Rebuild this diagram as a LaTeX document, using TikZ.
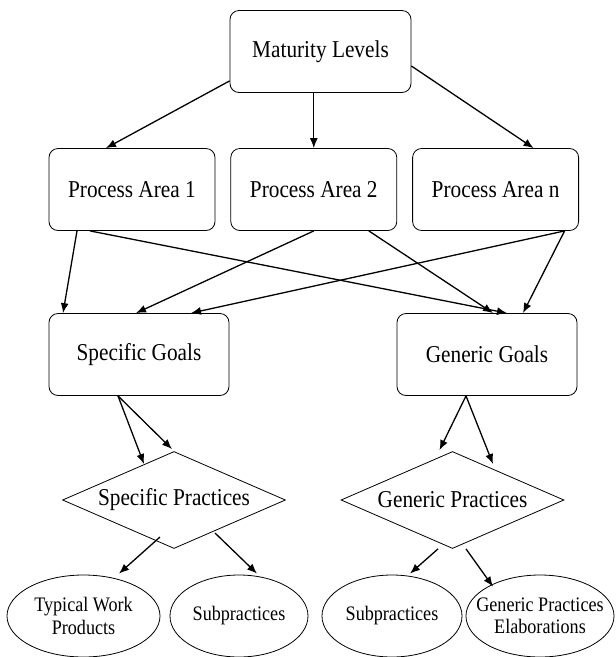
\documentclass[tikz,border=0pt]{standalone}
\usepackage{fontspec}
\setmainfont{Liberation Serif}[FakeStretch=0.88]
\usetikzlibrary{arrows.meta,positioning,shapes.geometric}

\begin{document}
\begin{tikzpicture}[x=1pt,y=-1pt,node distance=15pt,
        box/.style={rectangle,rounded corners=9pt,draw,line width=0.8pt,
          minimum height=82pt,inner sep=0pt,font=\fontsize{24.2}{28}\selectfont},
        choice/.style={diamond,aspect=2.3,draw,line width=0.8pt,inner sep=0pt,
          minimum width=223pt,minimum height=97pt,font=\fontsize{24.2}{28}\selectfont},
        oval/.style={ellipse,draw,line width=0.8pt,inner sep=0pt,minimum height=82pt,
          align=center,font=\fontsize{20.6}{22.5}\selectfont},
        arrow/.style={-{Latex[length=10pt,width=8pt]},line width=1.3pt}]
  \useasboundingbox (0,0) rectangle (616,657);
  % levels and areas
  \node[box,minimum width=181pt] (ml) at (320.5,51.5) {Maturity Levels};
  \node[box,minimum width=166pt] (pa1) at (132,189.5) {Process Area 1};
  \node[box,minimum width=166pt,right=of pa1] (pa2) {Process Area 2};
  \node[box,minimum width=166pt,right=of pa2] (pan) {Process Area n};
  % goals
  \node[box,minimum width=180pt] (sg) at (139,354.5) {Specific Goals};
  \node[box,minimum width=180pt] (gg) at (487,354.5) {Generic Goals};
  % practices
  \node[choice] (sp) at (174,500) {Specific Practices};
  \node[choice] (gp) at (452.5,500) {Generic Practices};
  % leaves
  \node[oval,minimum width=153pt] (twp) at (83.5,616) {Typical Work\\Products};
  \node[oval,minimum width=138pt] (sub1) at (239,616) {Subpractices};
  \node[oval,minimum width=140pt] (sub2) at (392,616) {Subpractices};
  \node[oval,minimum width=148pt,inner xsep=-12pt] (gpe) at (540,616) {Generic Practices\\Elaborations};

  \draw[arrow] ([shift={(0,-12)}]ml.south west) -- ([shift={(-26,0)}]pa1.north);
  \draw[arrow] (ml.south -| pa2.north) -- (pa2.north);
  \draw[arrow] ([shift={(0,14.5)}]ml.east) -- ([shift={(38,0)}]pan.north);

  \draw[arrow] ([shift={(-55,0)}]pa1.south) -- ([shift={(-76,0)}]sg.north);
  \draw[arrow] ([shift={(-42,0)}]pa1.south) -- ([shift={(20,0)}]gg.north);
  \draw[arrow] (pa2.south) -- ([shift={(-3,0)}]sg.north);
  \draw[arrow] ([shift={(55,0)}]pa2.south) -- ([shift={(6,0)}]gg.north);
  \draw[arrow] ([shift={(69,0)}]pan.south) -- ([shift={(52,0)}]sg.north);
  \draw[arrow] ([shift={(69,0)}]pan.south) -- ([shift={(36,0)}]gg.north);

  \draw[arrow] ([shift={(-21,0)}]sg.south) -- ([shift={(-30,-36)}]sp.center);
  \draw[arrow] ([shift={(-21,0)}]sg.south) -- ([shift={(-2,-2)}]sp.north);
  \draw[arrow] ([shift={(-21,0)}]gg.south) -- ([shift={(-13,-1)}]gp.north);
  \draw[arrow] ([shift={(-21,0)}]gg.south) -- ([shift={(40.5,-36)}]gp.center);

  \draw[arrow] ([shift={(-14,37)}]sp.center) -- ([shift={(35.5,-1)}]twp.north);
  \draw[arrow] ([shift={(41,33)}]sp.center) -- ([shift={(18,-1)}]sub1.north);
  \draw[arrow] ([shift={(-14.5,0)}]gp.south) -- ([shift={(18,-1)}]sub2.north);
  \draw[arrow] ([shift={(13.5,0)}]gp.south) -- ([shift={(-47,12)}]gpe.north);
\end{tikzpicture}
\end{document}
